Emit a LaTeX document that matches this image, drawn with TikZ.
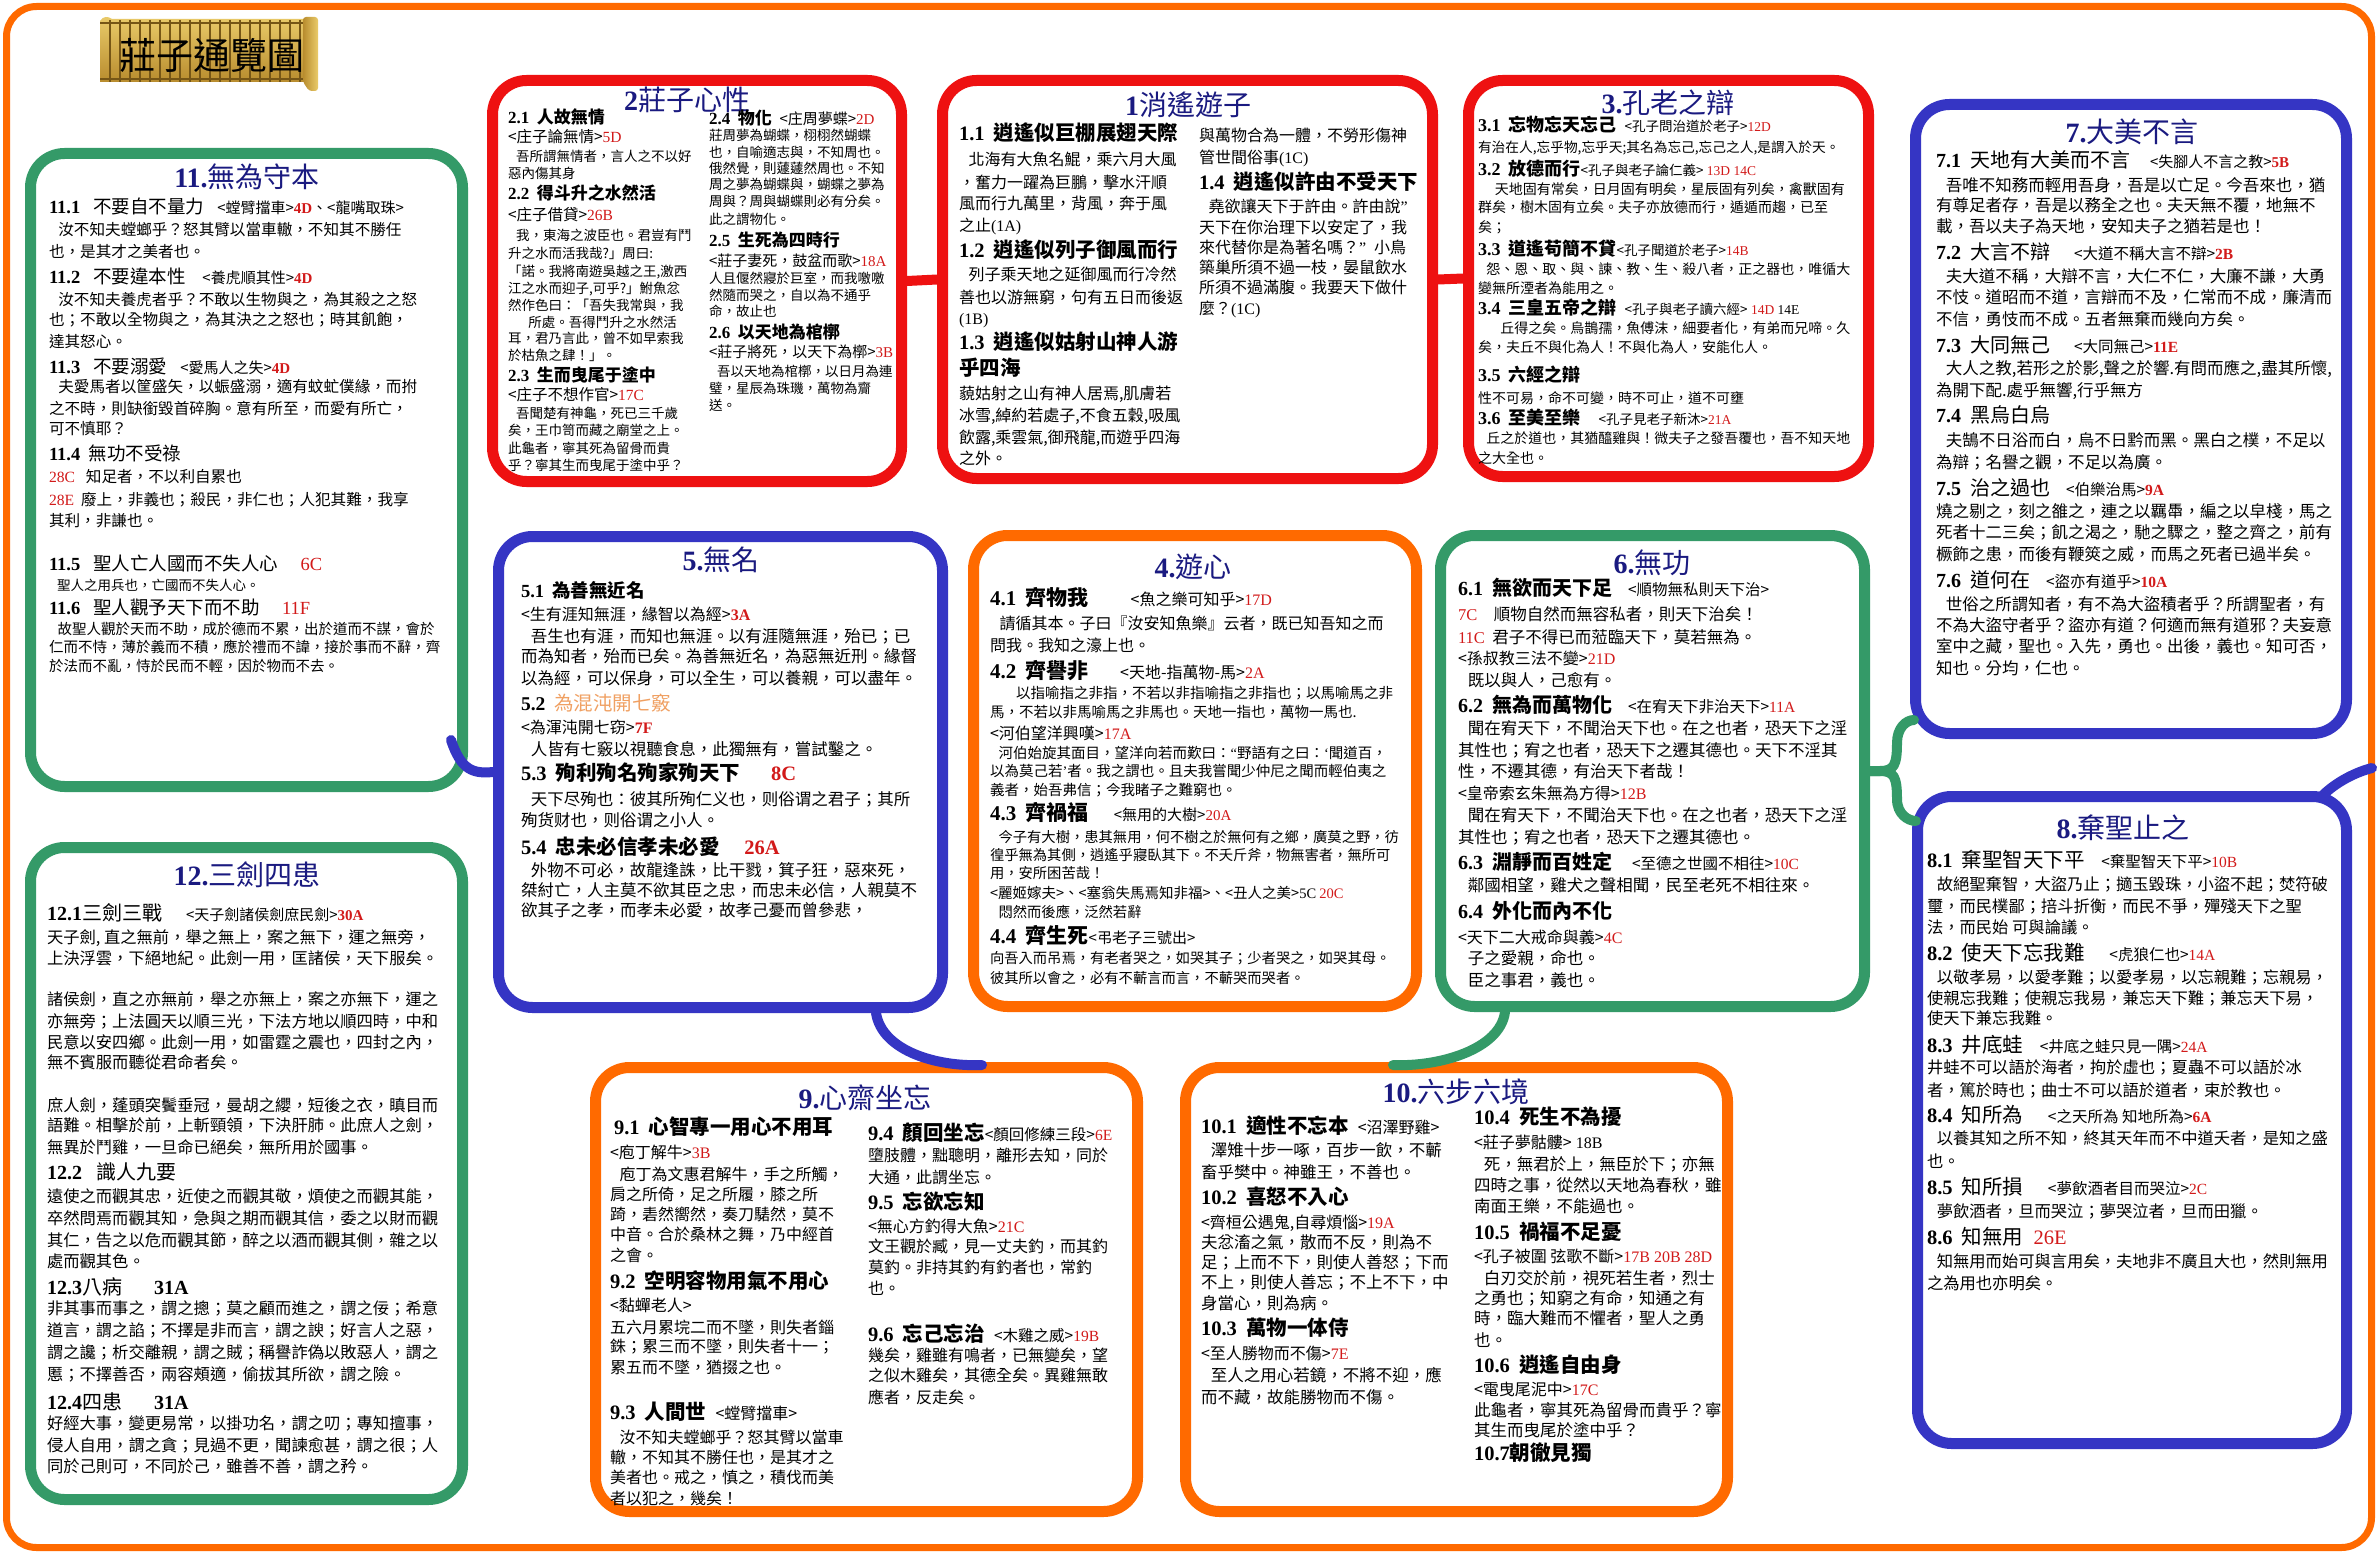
\documentclass[tikz,border=0pt]{standalone}
\usepackage{fontspec}
\setmainfont{Noto Sans CJK TC}
\newfontfamily\tnr{Liberation Serif}
\usetikzlibrary{calc}

\definecolor{frameorange}{HTML}{FF6A00}
\definecolor{boxred}{HTML}{EE1111}
\definecolor{boxgreen}{HTML}{349A68}
\definecolor{boxblue}{HTML}{3535C4}
\definecolor{navy}{HTML}{1A1A80}
\definecolor{refred}{HTML}{D21A1A}
\definecolor{tanhead}{HTML}{F0A062}
\definecolor{scrollhi}{HTML}{EACB6A}
\definecolor{scrolllo}{HTML}{B88C2E}
\definecolor{scrollline}{HTML}{765616}

% font size in px (1pt = 1px here)
\newcommand\fs[1]{\fontsize{#1}{#1}\selectfont}
% bold serif section number, red references
\newcommand\nm[1]{{\tnr\bfseries #1}}
\newcommand\rf[1]{{\tnr\color{refred}#1}}
\newcommand\rfb[1]{{\tnr\bfseries\color{refred}#1}}
\newcommand\ind{\hspace*{0.6em}}
\newcommand\gap{\hspace{0.45em}}
\newcommand\q[1]{{\tnr #1}}

% one line of text, vertically centred on the given y
\newcount\lnc
\newcommand\Ln[4]{\global\advance\lnc by 1
  \node[txt,font={\fs{#1}},yshift={-0.38*#1}] (t\the\lnc) at (#2,#3) {#4};}
% rounded section box from its outer edges
\newcommand\Bx[6]{%
  \pgfmathsetmacro\bw{#5-#3-11}\pgfmathsetmacro\bh{#6-#4-11}%
  \pgfmathsetmacro\bcx{(#3+#5)/2}\pgfmathsetmacro\bcy{(#4+#6)/2}%
  \node[box,draw=#2,minimum width=\bw pt,minimum height=\bh pt] (#1) at (\bcx,\bcy) {};}
\newcommand\Ttl[4]{\node[ttl] (#1) at (#2,#3) {#4};}

\begin{document}
\begin{tikzpicture}[x=1pt,y=-1pt,
  txt/.style={anchor=base west,inner sep=0pt,outer sep=0pt},
  ttl/.style={inner sep=0pt,text=navy,font={\fs{28}}},
  box/.style={rounded corners=34pt,line width=11pt,fill=white,inner sep=0pt,outer sep=5.5pt},
  frm/.style={rounded corners=30pt,line width=7pt,draw=frameorange,inner sep=0pt,outer sep=3.5pt},
  link/.style={line width=10pt,line cap=round}]
\useasboundingbox (0,0) rectangle (2378,1554);
\fill[white] (0,0) rectangle (2378,1554);

% outer frame
\node[frm,minimum width=2365pt,minimum height=1541pt] (frame) at (1189,777) {};

% title scroll
\shade[top color=scrollhi,bottom color=scrolllo] (100,21) .. controls (103,16) and (108,16) .. (112,19) -- (306,19) -- (306,82) -- (100,82) -- cycle;
\foreach \x in {110,120,...,300} \draw[scrollline,line width=1.3] (\x,20) -- (\x,82);
\draw[scrollline,line width=1.5] (100,23) -- (306,23);
\draw[scrollline,line width=1.5] (100,79) -- (306,79);
\shade[left color=scrolllo,right color=scrollhi,rounded corners=3pt] (303,17) -- (318,17) -- (318,91) -- (309,91) -- (303,82) -- cycle;
\node[inner sep=0pt,font={\fs{37}}] (banner) at (212,55) {莊子通覽圖};

% section boxes
\Bx{b11}{boxgreen}{25}{148}{468}{792}
\Bx{b12}{boxgreen}{25}{842}{468}{1505}
\Bx{b2}{boxred}{487}{75}{907}{487}
\Bx{b1}{boxred}{937}{75}{1438}{484}
\Bx{b3}{boxred}{1463}{75}{1874}{482}
\Bx{b7}{boxblue}{1910}{99}{2352}{739}
\Bx{b8}{boxblue}{1912}{791}{2352}{1449}
\Bx{b5}{boxblue}{493}{531}{948}{1013}
\Bx{b4}{frameorange}{968}{530}{1422}{1012}
\Bx{b6}{boxgreen}{1435}{530}{1870}{1012}
\Bx{b9}{frameorange}{590}{1062}{1143}{1517}
\Bx{b10}{frameorange}{1180}{1062}{1733}{1517}

% connectors
\draw[link,boxred] (b2.east) -- (b1.west);
\draw[link,boxred] (b1.east) -- (b3.west);
\draw[link,boxblue] ($(b11.south east)+(-17,-52)$) .. controls +(10,30) and +(-20,2) .. (b5.west);
\draw[link,boxblue] ($(b5.south west)+(383,0)$) .. controls +(6,38) and +(-45,2) .. ($(b9.north west)+(392,3)$);
\draw[link,boxgreen] ($(b6.south west)+(70,0)$) .. controls +(-5,38) and +(45,2) .. ($(b10.north west)+(213,3)$);
\draw[link,boxgreen] (b6.east) -- ++(10,0) .. controls +(14,0) and +(0,22) .. ($(b6.east)+(27,-28)$) .. controls +(0,-15) and +(-8,0) .. ($(b7.south west)+(4,-19)$);
\draw[link,boxgreen] (b6.east) -- ++(10,0) .. controls +(14,0) and +(0,-22) .. ($(b6.east)+(27,28)$) .. controls +(0,15) and +(-8,0) .. ($(b8.north west)+(4,30)$);
\draw[link,boxblue] ($(b8.north east)+(-30,5)$) .. controls +(14,-14) and +(-16,4) .. ($(frame.east)+(-3,-9)$);

% titles
\Ttl{ttl11}{247}{177}{\nm{11.}無為守本}
\Ttl{ttl12}{247}{875}{\nm{12.}三劍四患}
\Ttl{ttl2}{687}{100}{\nm{2}莊子心性}
\Ttl{ttl1}{1188}{105}{\nm{1}消遙遊子}
\Ttl{ttl3}{1668}{103}{\nm{3.}孔老之辯}
\Ttl{ttl7}{2132}{132}{\nm{7.}大美不言}
\Ttl{ttl8}{2123}{828}{\nm{8.}棄聖止之}
\Ttl{ttl5}{721}{560}{\nm{5.}無名}
\Ttl{ttl4}{1193}{567}{\nm{4.}遊心}
\Ttl{ttl6}{1652}{563}{\nm{6.}無功}
\Ttl{ttl9}{865}{1098}{\nm{9.}心齋坐忘}
\Ttl{ttl10}{1456}{1092}{\nm{10.}六步六境}

% ---- 11 無為守本
\Ln{18.5}{49}{206}{\nm{11.1}\hspace{0.7em}不要自不量力\hspace{0.7em}{\fs{15}<螳臂擋車>\rfb{4D}、<龍嘴取珠>}}
\Ln{15.6}{49}{230}{\ind 汝不知夫螳螂乎？怒其臂以當車轍，不知其不勝任}
\Ln{15.6}{49}{252}{也，是其才之美者也。}
\Ln{18.5}{49}{276}{\nm{11.2}\hspace{0.7em}不要違本性\hspace{0.9em}{\fs{15}<養虎順其性>\rfb{4D}}}
\Ln{15.6}{49}{300}{\ind 汝不知夫養虎者乎？不敢以生物與之，為其殺之之怒}
\Ln{15.6}{49}{320}{也；不敢以全物與之，為其決之之怒也；時其飢飽，}
\Ln{15.6}{49}{342}{達其怒心。}
\Ln{18.5}{49}{366}{\nm{11.3}\hspace{0.7em}不要溺愛\hspace{0.7em}{\fs{15}<愛馬人之失>\rfb{4D}}}
\Ln{15.6}{49}{387}{\ind 夫愛馬者以筐盛矢，以蜄盛溺，適有蚊虻僕緣，而拊}
\Ln{15.6}{49}{409}{之不時，則缺銜毀首碎胸。意有所至，而愛有所亡，}
\Ln{15.6}{49}{429}{可不慎耶？}
\Ln{18.5}{49}{453}{\nm{11.4}\gap 無功不受祿}
\Ln{15.6}{49}{477}{\rf{28C}\hspace{0.7em}知足者，不以利自累也}
\Ln{15.6}{49}{500}{\rf{28E}\gap 廢上，非義也；殺民，非仁也；人犯其難，我享}
\Ln{15.6}{49}{521}{其利，非謙也。}
\Ln{18.5}{49}{563}{\nm{11.5}\hspace{0.7em}聖人亡人國而不失人心\hspace{1.2em}\rf{6C}}
\Ln{13.5}{49}{585}{\ind 聖人之用兵也，亡國而不失人心。}
\Ln{18.5}{49}{607}{\nm{11.6}\hspace{0.7em}聖人觀予天下而不助\hspace{1.2em}\rf{11F}}
\Ln{14.5}{49}{629}{\ind 故聖人觀於天而不助，成於德而不累，出於道而不謀，會於}
\Ln{14.5}{49}{647}{仁而不恃，薄於義而不積，應於禮而不諱，接於事而不辭，齊}
\Ln{14.5}{49}{666}{於法而不亂，恃於民而不輕，因於物而不去。}

% ---- 12 三劍四患
\Ln{20}{47}{913}{\nm{12.1}三劍三戰\hspace{1.2em}{\fs{15}<天子劍諸侯劍庶民劍>\rfb{30A}}}
\Ln{16.3}{47}{937}{天子劍, 直之無前，舉之無上，案之無下，運之無旁，}
\Ln{16.3}{47}{958}{上決浮雲，下絕地紀。此劍一用，匡諸侯，天下服矣。}
\Ln{16.3}{47}{999}{諸侯劍，直之亦無前，舉之亦無上，案之亦無下，運之}
\Ln{16.3}{47}{1021}{亦無旁；上法圓天以順三光，下法方地以順四時，中和}
\Ln{16.3}{47}{1042}{民意以安四鄉。此劍一用，如雷霆之震也，四封之內，}
\Ln{16.3}{47}{1062}{無不賓服而聽從君命者矣。}
\Ln{16.3}{47}{1105}{庶人劍，蓬頭突鬢垂冠，曼胡之纓，短後之衣，瞋目而}
\Ln{16.3}{47}{1125}{語難。相擊於前，上斬頸領，下決肝肺。此庶人之劍，}
\Ln{16.3}{47}{1147}{無異於鬥雞，一旦命已絕矣，無所用於國事。}
\Ln{20}{47}{1172}{\nm{12.2}\hspace{0.7em}識人九要}
\Ln{16.3}{47}{1196}{遠使之而觀其忠，近使之而觀其敬，煩使之而觀其能，}
\Ln{16.3}{47}{1218}{卒然問焉而觀其知，急與之期而觀其信，委之以財而觀}
\Ln{16.3}{47}{1240}{其仁，告之以危而觀其節，醉之以酒而觀其側，雜之以}
\Ln{16.3}{47}{1261}{處而觀其色。}
\Ln{20}{47}{1287}{\nm{12.3}八病\hspace{1.6em}\nm{31A}}
\Ln{16.3}{47}{1308}{非其事而事之，謂之摠；莫之顧而進之，謂之佞；希意}
\Ln{16.3}{47}{1330}{道言，謂之諂；不擇是非而言，謂之諛；好言人之惡，}
\Ln{16.3}{47}{1352}{謂之讒；析交離親，謂之賊；稱譽詐偽以敗惡人，謂之}
\Ln{16.3}{47}{1374}{慝；不擇善否，兩容頰適，偷拔其所欲，謂之險。}
\Ln{20}{47}{1402}{\nm{12.4}四患\hspace{1.6em}\nm{31A}}
\Ln{16.3}{47}{1423}{好經大事，變更易常，以掛功名，謂之叨；專知擅事，}
\Ln{16.3}{47}{1445}{侵人自用，謂之貪；見過不更，聞諫愈甚，謂之很；人}
\Ln{16.3}{47}{1466}{同於己則可，不同於己，雖善不善，謂之矜。}

% ---- 2 莊子心性
\Ln{17}{508}{117}{\nm{2.1}\gap\textbf{人故無情}}
\Ln{15.5}{508}{137}{<庄子論無情>\rf{5D}}
\Ln{13.5}{508}{156}{\ind 吾所謂無情者，言人之不以好}
\Ln{13.5}{508}{173}{惡內傷其身}
\Ln{17}{508}{193}{\nm{2.2}\gap\textbf{得斗升之水然活}}
\Ln{15.5}{508}{215}{<庄子借貸>\rf{26B}}
\Ln{13.5}{508}{235}{\ind 我，東海之波臣也。君豈有鬥}
\Ln{13.5}{508}{253}{升之水而活我哉?」周曰:}
\Ln{13.5}{508}{271}{「諾。我將南遊吳越之王,激西}
\Ln{13.5}{508}{288}{江之水而迎子,可乎?」鮒魚忿}
\Ln{13.5}{508}{305}{然作色曰：「吾失我常與，我}
\Ln{13.5}{508}{322}{\hspace*{1.5em}所處。吾得鬥升之水然活}
\Ln{13.5}{508}{338}{耳，君乃言此，曾不如早索我}
\Ln{13.5}{508}{355}{於枯魚之肆！」。}
\Ln{17}{508}{375}{\nm{2.3}\gap\textbf{生而曳尾于塗中}}
\Ln{15.5}{508}{395}{<庄子不想作官>\rf{17C}}
\Ln{13.5}{508}{413}{\ind 吾聞楚有神龜，死已三千歲}
\Ln{13.5}{508}{430}{矣，王巾笥而藏之廟堂之上。}
\Ln{13.5}{508}{448}{此龜者，寧其死為留骨而貴}
\Ln{13.5}{508}{465}{乎？寧其生而曳尾于塗中乎？}
\Ln{17}{709}{118}{\nm{2.4}\gap\textbf{物化}\gap{\fs{15}<庄周夢蝶>\rf{2D}}}
\Ln{13.5}{709}{135}{莊周夢為蝴蝶，栩栩然蝴蝶}
\Ln{13.5}{709}{152}{也，自喻適志與，不知周也。}
\Ln{13.5}{709}{168}{俄然覺，則蘧蘧然周也。不知}
\Ln{13.5}{709}{184}{周之夢為蝴蝶與，蝴蝶之夢為}
\Ln{13.5}{709}{201}{周與？周與蝴蝶則必有分矣。}
\Ln{13.5}{709}{219}{此之謂物化。}
\Ln{17}{709}{240}{\nm{2.5}\gap\textbf{生死為四時行}}
\Ln{15}{709}{261}{<莊子妻死，鼓盆而歌>\rf{18A}}
\Ln{13.5}{709}{278}{人且偃然寢於巨室，而我噭噭}
\Ln{13.5}{709}{295}{然隨而哭之，自以為不通乎}
\Ln{13.5}{709}{311}{命，故止也}
\Ln{17}{709}{332}{\nm{2.6}\gap\textbf{以天地為棺槨}}
\Ln{15}{709}{352}{<莊子將死，以天下為槨>\rf{3B}}
\Ln{13.5}{709}{371}{\ind 吾以天地為棺槨，以日月為連}
\Ln{13.5}{709}{388}{璧，星辰為珠璣，萬物為齎}
\Ln{13.5}{709}{405}{送。}

% ---- 1 消遙遊子
\Ln{20.5}{959}{133}{\nm{1.1}\gap\textbf{逍遙似巨棚展翅天際}}
\Ln{16}{959}{159}{\ind 北海有大魚名鯤，乘六月大風}
\Ln{16}{959}{182}{，奮力一躍為巨鵬，擊水汗順}
\Ln{16}{959}{203}{風而行九萬里，背風，奔于風}
\Ln{16}{959}{225}{之止\q{(1A)}}
\Ln{20.5}{959}{250}{\nm{1.2}\gap\textbf{逍遙似列子御風而行}}
\Ln{16}{959}{274}{\ind 列子乘天地之延御風而行冷然}
\Ln{16}{959}{297}{善也以游無窮，句有五日而後返}
\Ln{16}{959}{318}{\q{(1B)}}
\Ln{20.5}{959}{342}{\nm{1.3}\gap\textbf{逍遙似姑射山神人游}}
\Ln{20.5}{959}{368}{\textbf{乎四海}}
\Ln{16}{959}{393}{藐姑射之山有神人居焉,肌膚若}
\Ln{16}{959}{415}{冰雪,綽約若處子,不食五穀,吸風}
\Ln{16}{959}{437}{飲露,乘雲氣,御飛龍,而遊乎四海}
\Ln{16}{959}{458}{之外。}
\Ln{16}{1199}{135}{與萬物合為一體，不勞形傷神}
\Ln{16}{1199}{157}{管世間俗事\q{(1C)}}
\Ln{20.5}{1199}{182}{\nm{1.4}\gap\textbf{逍遙似許由不受天下}}
\Ln{16}{1199}{206}{\ind 堯欲讓天下于許由。許由說\q{”}}
\Ln{16}{1199}{227}{天下在你治理下以安定了，我}
\Ln{16}{1199}{247}{來代替你是為著名嗎？\q{”}\hspace{0.5em}小鳥}
\Ln{16}{1199}{267}{築巢所須不過一枝，晏鼠飲水}
\Ln{16}{1199}{287}{所須不過滿腹。我要天下做什}
\Ln{16}{1199}{308}{麼？\q{(1C)}}

% ---- 3 孔老之辯
\Ln{18}{1478}{125}{\nm{3.1}\gap\textbf{忘物忘天忘己}\gap{\fs{13.5}<孔子問治道於老子>\rf{12D}}}
\Ln{13.7}{1478}{147}{有治在人,忘乎物,忘乎天;其名為忘己,忘己之人,是謂入於天。}
\Ln{18}{1478}{169}{\nm{3.2}\gap\textbf{放德而行}{\fs{13.5}<孔子與老子論仁義>\rf{\ 13D 14C}}}
\Ln{14}{1478}{189}{\hspace*{1.2em}天地固有常矣，日月固有明矣，星辰固有列矣，禽獸固有}
\Ln{14}{1478}{207}{群矣，樹木固有立矣。夫子亦放德而行，遁遁而趨，已至}
\Ln{14}{1478}{227}{矣；}
\Ln{18}{1478}{249}{\nm{3.3}\gap\textbf{道遙苟簡不貸}{\fs{13.5}<孔子聞道於老子>\rf{14B}}}
\Ln{14}{1478}{269}{\ind 怨、恩、取、與、諫、教、生、殺八者，正之器也，唯循大}
\Ln{14}{1478}{288}{變無所湮者為能用之。}
\Ln{18}{1478}{308}{\nm{3.4}\gap\textbf{三皇五帝之辯}\gap{\fs{13.5}<孔子與老子讀六經>\rf{\ 14D}\q{\ 14E}}}
\Ln{14}{1478}{328}{\hspace*{1.6em}丘得之矣。烏鵲孺，魚傅沫，細要者化，有弟而兄啼。久}
\Ln{14}{1478}{347}{矣，夫丘不與化為人！不與化為人，安能化人。}
\Ln{18}{1478}{375}{\nm{3.5}\gap\textbf{六經之辯}}
\Ln{14}{1478}{398}{性不可易，命不可變，時不可止，道不可壅}
\Ln{18}{1478}{418}{\nm{3.6}\gap\textbf{至美至樂}\hspace{1em}{\fs{13.5}<孔子見老子新沐>\rf{21A}}}
\Ln{14}{1478}{438}{\ind 丘之於道也，其猶醯雞與！微夫子之發吾覆也，吾不知天地}
\Ln{14}{1478}{458}{之大全也。}

% ---- 7 大美不言
\Ln{20}{1936}{160}{\nm{7.1}\gap 天地有大美而不言\hspace{1em}{\fs{15}<失腳人不言之教>\rfb{5B}}}
\Ln{16.5}{1936}{185}{\ind 吾唯不知務而輕用吾身，吾是以亡足。今吾來也，猶}
\Ln{16.5}{1936}{205}{有尊足者存，吾是以務全之也。夫天無不覆，地無不}
\Ln{16.5}{1936}{226}{載，吾以夫子為天地，安知夫子之猶若是也！}
\Ln{20}{1936}{252}{\nm{7.2}\gap 大言不辯\hspace{1.2em}{\fs{15.5}<大道不稱大言不辯>\rfb{2B}}}
\Ln{16.5}{1936}{276}{\ind 夫大道不稱，大辯不言，大仁不仁，大廉不謙，大勇}
\Ln{16.5}{1936}{297}{不忮。道昭而不道，言辯而不及，仁常而不成，廉清而}
\Ln{16.5}{1936}{319}{不信，勇忮而不成。五者無棄而幾向方矣。}
\Ln{20}{1936}{345}{\nm{7.3}\gap 大同無己\hspace{1.2em}{\fs{15.5}<大同無己>\rfb{11E}}}
\Ln{16.5}{1936}{368}{\ind 大人之教,若形之於影,聲之於響.有問而應之,盡其所懷,}
\Ln{16.5}{1936}{390}{為開下配.處乎無響,行乎無方}
\Ln{20}{1936}{415}{\nm{7.4}\gap 黑烏白烏}
\Ln{16.5}{1936}{440}{\ind 夫鵠不日浴而白，烏不日黔而黑。黑白之樸，不足以}
\Ln{16.5}{1936}{462}{為辯；名譽之觀，不足以為廣。}
\Ln{20}{1936}{488}{\nm{7.5}\gap 治之過也\hspace{0.8em}{\fs{15.5}<伯樂治馬>\rfb{9A}}}
\Ln{16.5}{1936}{511}{燒之剔之，刻之雒之，連之以羈馽，編之以皁棧，馬之}
\Ln{16.5}{1936}{532}{死者十二三矣；飢之渴之，馳之驟之，整之齊之，前有}
\Ln{16.5}{1936}{554}{橛飾之患，而後有鞭筴之威，而馬之死者已過半矣。}
\Ln{20}{1936}{580}{\nm{7.6}\gap 道何在\hspace{0.8em}{\fs{15.5}<盜亦有道乎>\rfb{10A}}}
\Ln{16.5}{1936}{604}{\ind 世俗之所謂知者，有不為大盜積者乎？所謂聖者，有}
\Ln{16.5}{1936}{625}{不為大盜守者乎？盜亦有道？何適而無有道邪？夫妄意}
\Ln{16.5}{1936}{646}{室中之藏，聖也。入先，勇也。出後，義也。知可否，}
\Ln{16.5}{1936}{668}{知也。分均，仁也。}

% ---- 8 棄聖止之
\Ln{20.5}{1927}{860}{\nm{8.1}\gap 棄聖智天下平\hspace{0.8em}{\fs{15.5}<棄聖智天下平>\rf{10B}}}
\Ln{16.3}{1927}{884}{\ind 故絕聖棄智，大盜乃止；擿玉毀珠，小盜不起；焚符破}
\Ln{16.3}{1927}{906}{璽，而民樸鄙；掊斗折衡，而民不爭，殫殘天下之聖}
\Ln{16.3}{1927}{927}{法，而民始 可與論議。}
\Ln{20.5}{1927}{953}{\nm{8.2}\gap 使天下忘我難\hspace{1.2em}{\fs{15.5}<虎狼仁也>\rf{14A}}}
\Ln{16.3}{1927}{977}{\ind 以敬孝易，以愛孝難；以愛孝易，以忘親難；忘親易，}
\Ln{16.3}{1927}{998}{使親忘我難；使親忘我易，兼忘天下難；兼忘天下易，}
\Ln{16.3}{1927}{1018}{使天下兼忘我難。}
\Ln{20.5}{1927}{1045}{\nm{8.3}\gap 井底蛙\hspace{0.8em}{\fs{15.5}<井底之蛙只見一隅>\rf{24A}}}
\Ln{16.3}{1927}{1067}{井蛙不可以語於海者，拘於虛也；夏蟲不可以語於冰}
\Ln{16.3}{1927}{1090}{者，篤於時也；曲士不可以語於道者，束於教也。}
\Ln{20.5}{1927}{1115}{\nm{8.4}\gap 知所為\hspace{1.2em}{\fs{15.5}<之天所為 知地所為>\rfb{6A}}}
\Ln{16.3}{1927}{1138}{\ind 以養其知之所不知，終其天年而不中道夭者，是知之盛}
\Ln{16.3}{1927}{1161}{也。}
\Ln{20.5}{1927}{1187}{\nm{8.5}\gap 知所損\hspace{1.2em}{\fs{15.5}<夢飲酒者目而哭泣>\rf{2C}}}
\Ln{16.3}{1927}{1211}{\ind 夢飲酒者，旦而哭泣；夢哭泣者，旦而田獵。}
\Ln{20.5}{1927}{1237}{\nm{8.6}\gap 知無用\hspace{0.5em}\rf{26E}}
\Ln{16.3}{1927}{1261}{\ind 知無用而始可與言用矣，夫地非不廣且大也，然則無用}
\Ln{16.3}{1927}{1283}{之為用也亦明矣。}

% ---- 5 無名
\Ln{18.5}{521}{590}{\nm{5.1}\gap\textbf{為善無近名}}
\Ln{16}{521}{614}{<生有涯知無涯，緣智以為經>\rfb{3A}}
\Ln{16.5}{521}{636}{\ind 吾生也有涯，而知也無涯。以有涯隨無涯，殆已；已}
\Ln{16.5}{521}{656}{而為知者，殆而已矣。為善無近名，為惡無近刑。緣督}
\Ln{16.5}{521}{678}{以為經，可以保身，可以全生，可以養親，可以盡年。}
\Ln{19.5}{521}{703}{\nm{5.2}\gap{\color{tanhead}為混沌開七竅}}
\Ln{16}{521}{727}{<為渾沌開七窃>\rfb{7F}}
\Ln{16.5}{521}{749}{\ind 人皆有七竅以視聽食息，此獨無有，嘗試鑿之。}
\Ln{20.5}{521}{773}{\nm{5.3}\gap\textbf{殉利殉名殉家殉天下}\hspace{1.5em}\rfb{8C}}
\Ln{16.5}{521}{799}{\ind 天下尽殉也：彼其所殉仁义也，则俗谓之君子；其所}
\Ln{16.5}{521}{820}{殉货财也，则俗谓之小人。}
\Ln{20.5}{521}{847}{\nm{5.4}\gap\textbf{忠未必信孝未必愛}\hspace{1.2em}\rfb{26A}}
\Ln{16.5}{521}{870}{\ind 外物不可必，故龍逢誅，比干戮，箕子狂，惡來死，}
\Ln{16.5}{521}{890}{桀紂亡，人主莫不欲其臣之忠，而忠未必信，人親莫不}
\Ln{16.5}{521}{910}{欲其子之孝，而孝未必愛，故孝己憂而曾參悲，}

% ---- 4 遊心
\Ln{21}{990}{598}{\nm{4.1}\gap\textbf{齊物我}\hspace{2em}{\fs{16}<魚之樂可知乎>\rf{17D}}}
\Ln{16}{990}{623}{\ind 請循其本。子曰『汝安知魚樂』云者，既已知吾知之而}
\Ln{16}{990}{645}{問我。我知之濠上也。}
\Ln{21}{990}{671}{\nm{4.2}\gap\textbf{齊譽非}\hspace{1.5em}{\fs{16}<天地-指萬物-馬>\rf{2A}}}
\Ln{14.5}{990}{693}{\hspace*{1.8em}以指喻指之非指，不若以非指喻指之非指也；以馬喻馬之非}
\Ln{14.5}{990}{712}{馬，不若以非馬喻馬之非馬也。天地一指也，萬物一馬也.}
\Ln{16}{990}{733}{<河伯望洋興嘆>\rf{17A}}
\Ln{14.5}{990}{753}{\ind 河伯始旋其面目，望洋向若而歎曰：\q{“}野語有之曰：\q{‘}聞道百，}
\Ln{14.5}{990}{771}{以為莫己若\q{’}者。我之謂也。且夫我嘗聞少仲尼之聞而輕伯夷之}
\Ln{14.5}{990}{790}{義者，始吾弗信；今我睹子之難窮也。}
\Ln{21}{990}{813}{\nm{4.3}\gap\textbf{齊禍福}\hspace{1.2em}{\fs{15}<無用的大樹>\rf{20A}}}
\Ln{14.3}{990}{837}{\ind 今子有大樹，患其無用，何不樹之於無何有之鄉，廣莫之野，彷}
\Ln{14.3}{990}{855}{徨乎無為其側，逍遙乎寢臥其下。不夭斤斧，物無害者，無所可}
\Ln{14.3}{990}{873}{用，安所困苦哉！}
\Ln{14.5}{990}{893}{<麗姬嫁夫>、<塞翁失馬焉知非福>、<丑人之美>\q{5C} \rf{20C}}
\Ln{14.3}{990}{912}{\ind 悶然而後應，泛然若辭}
\Ln{21}{990}{936}{\nm{4.4}\gap\textbf{齊生死}{\fs{15}<弔老子三號出>}}
\Ln{14.3}{990}{958}{向吾入而吊焉，有老者哭之，如哭其子；少者哭之，如哭其母。}
\Ln{14.3}{990}{978}{彼其所以會之，必有不蘄言而言，不蘄哭而哭者。}

% ---- 6 無功
\Ln{20}{1458}{588}{\nm{6.1}\gap\textbf{無欲而天下足}\hspace{0.8em}{\fs{15.5}<順物無私則天下治>}}
\Ln{16.5}{1458}{614}{\rf{7C}\hspace{1em}順物自然而無容私者，則天下治矣！}
\Ln{16.5}{1458}{637}{\rf{11C}\gap 君子不得已而蒞臨天下，莫若無為。}
\Ln{16}{1458}{658}{<孫叔教三法不變>\rf{21D}}
\Ln{16.5}{1458}{680}{\ind 既以與人，己愈有。}
\Ln{20}{1458}{705}{\nm{6.2}\gap\textbf{無為而萬物化}\hspace{0.8em}{\fs{15.5}<在宥天下非治天下>\rf{11A}}}
\Ln{16.5}{1458}{728}{\ind 聞在宥天下，不聞治天下也。在之也者，恐天下之淫}
\Ln{16.5}{1458}{750}{其性也；宥之也者，恐天下之遷其德也。天下不淫其}
\Ln{16.5}{1458}{771}{性，不遷其德，有治天下者哉！}
\Ln{16}{1458}{793}{<皇帝索玄朱無為方得>\rf{12B}}
\Ln{16.5}{1458}{815}{\ind 聞在宥天下，不聞治天下也。在之也者，恐天下之淫}
\Ln{16.5}{1458}{837}{其性也；宥之也者，恐天下之遷其德也。}
\Ln{20}{1458}{862}{\nm{6.3}\gap\textbf{淵靜而百姓定}\hspace{1em}{\fs{15.5}<至德之世國不相往>\rf{10C}}}
\Ln{16.5}{1458}{885}{\ind 鄰國相望，雞犬之聲相聞，民至老死不相往來。}
\Ln{20}{1458}{911}{\nm{6.4}\gap\textbf{外化而內不化}}
\Ln{16}{1458}{937}{<天下二大戒命與義>\rf{4C}}
\Ln{16.5}{1458}{958}{\ind 子之愛親，命也。}
\Ln{16.5}{1458}{980}{\ind 臣之事君，義也。}

% ---- 9 心齋坐忘
\Ln{20.5}{614}{1127}{\nm{9.1}\gap\textbf{心智專一用心不用耳}}
\Ln{16}{610}{1152}{<庖丁解牛>\rf{3B}}
\Ln{16}{610}{1174}{\ind 庖丁為文惠君解牛，手之所觸，}
\Ln{16}{610}{1194}{肩之所倚，足之所履，膝之所}
\Ln{16}{610}{1214}{踦，砉然嚮然，奏刀騞然，莫不}
\Ln{16}{610}{1234}{中音。合於桑林之舞，乃中經首}
\Ln{16}{610}{1255}{之會。}
\Ln{20.5}{610}{1281}{\nm{9.2}\gap\textbf{空明容物用氣不用心}}
\Ln{16}{610}{1305}{<黏蟬老人>}
\Ln{16}{610}{1327}{五六月累垸二而不墜，則失者錙}
\Ln{16}{610}{1346}{銖；累三而不墜，則失者十一；}
\Ln{16}{610}{1367}{累五而不墜，猶掇之也。}
\Ln{20.5}{610}{1412}{\nm{9.3}\gap\textbf{人間世}\gap{\fs{16}<螳臂擋車>}}
\Ln{16}{610}{1437}{\ind 汝不知夫螳螂乎？怒其臂以當車}
\Ln{16}{610}{1457}{轍，不知其不勝任也，是其才之}
\Ln{16}{610}{1477}{美者也。戒之，慎之，積伐而美}
\Ln{16}{610}{1498}{者以犯之，幾矣！}
\Ln{20.5}{868}{1133}{\nm{9.4}\gap\textbf{顏回坐忘}{\fs{15.5}<顏回修練三段>\rf{6E}}}
\Ln{16}{868}{1155}{墮肢體，黜聰明，離形去知，同於}
\Ln{16}{868}{1177}{大通，此謂坐忘。}
\Ln{20.5}{868}{1202}{\nm{9.5}\gap\textbf{忘欲忘知}}
\Ln{16}{868}{1226}{<無心方釣得大魚>\rf{21C}}
\Ln{16}{868}{1246}{文王觀於臧，見一丈夫釣，而其釣}
\Ln{16}{868}{1267}{莫釣。非持其釣有釣者也，常釣}
\Ln{16}{868}{1288}{也。}
\Ln{20.5}{868}{1334}{\nm{9.6}\gap\textbf{忘己忘治}\gap{\fs{15.5}<木雞之威>\rf{19B}}}
\Ln{16}{868}{1355}{幾矣，雞雖有鳴者，已無變矣，望}
\Ln{16}{868}{1375}{之似木雞矣，其德全矣。異雞無敢}
\Ln{16}{868}{1397}{應者，反走矣。}

% ---- 10 六步六境
\Ln{20.5}{1201}{1126}{\nm{10.1}\gap\textbf{適性不忘本}\gap{\fs{16}<沼澤野雞>}}
\Ln{16.5}{1201}{1150}{\ind 澤雉十步一啄，百步一飲，不蘄}
\Ln{16.5}{1201}{1172}{畜乎樊中。神雖王，不善也。}
\Ln{20.5}{1201}{1197}{\nm{10.2}\gap\textbf{喜怒不入心}}
\Ln{16}{1201}{1222}{<齊桓公遇鬼,自尋煩惱>\rf{19A}}
\Ln{16.5}{1201}{1242}{夫忿滀之氣，散而不反，則為不}
\Ln{16.5}{1201}{1262}{足；上而不下，則使人善怒；下而}
\Ln{16.5}{1201}{1282}{不上，則使人善忘；不上不下，中}
\Ln{16.5}{1201}{1303}{身當心，則為病。}
\Ln{20.5}{1201}{1328}{\nm{10.3}\gap\textbf{萬物一体侍}}
\Ln{16}{1201}{1353}{<至人勝物而不傷>\rf{7E}}
\Ln{16.5}{1201}{1375}{\ind 至人之用心若鏡，不將不迎，應}
\Ln{16.5}{1201}{1397}{而不藏，故能勝物而不傷。}
\Ln{20.5}{1474}{1117}{\nm{10.4}\gap\textbf{死生不為擾}}
\Ln{16}{1474}{1142}{<莊子夢骷髏>\q{\ 18B}}
\Ln{16.5}{1474}{1164}{\ind 死，無君於上，無臣於下；亦無}
\Ln{16.5}{1474}{1185}{四時之事，從然以天地為春秋，雖}
\Ln{16.5}{1474}{1206}{南面王樂，不能過也。}
\Ln{20.5}{1474}{1232}{\nm{10.5}\gap\textbf{禍福不足憂}}
\Ln{16}{1474}{1256}{<孔子被圍 弦歌不斷>\rf{17B 20B 28D}}
\Ln{16.5}{1474}{1278}{\ind 白刃交於前，視死若生者，烈士}
\Ln{16.5}{1474}{1298}{之勇也；知窮之有命，知通之有}
\Ln{16.5}{1474}{1318}{時，臨大難而不懼者，聖人之勇}
\Ln{16.5}{1474}{1340}{也。}
\Ln{20.5}{1474}{1365}{\nm{10.6}\gap\textbf{逍遙自由身}}
\Ln{16}{1474}{1389}{<電曳尾泥中>\rf{17C}}
\Ln{16.5}{1474}{1410}{此龜者，寧其死為留骨而貴乎？寧}
\Ln{16.5}{1474}{1430}{其生而曳尾於塗中乎？}
\Ln{20.5}{1474}{1453}{\nm{10.7}\textbf{朝徹見獨}}
\end{tikzpicture}
\end{document}
